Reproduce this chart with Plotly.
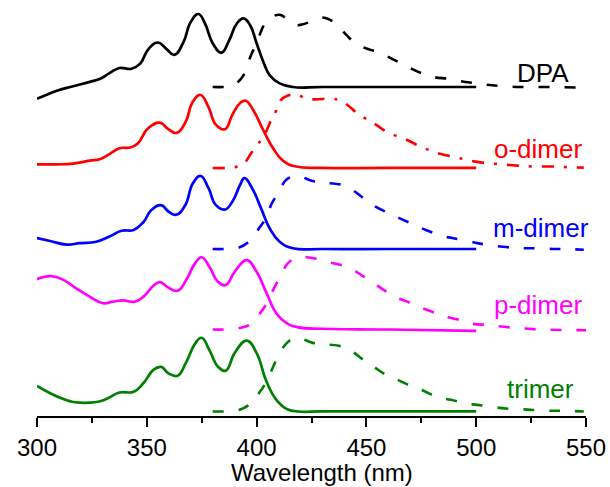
import plotly.graph_objects as go

# ---------------- data (normalised spectra) ----------------
names = ["DPA", "o-dimer", "m-dimer", "p-dimer", "trimer"]
colors = ["#000000", "#FF0000", "#0000FF", "#FF00FF", "#008000"]
offsets = [4.445, 3.336, 2.226, 1.123, 0.0]   # vertical stacking offsets

dpa_abs_x = [300, 305, 309, 316.5, 324, 328.5, 333, 337.5, 343, 347, 350.5, 355, 359, 362.5,
             366.5, 370, 373.5, 376.5, 380, 384, 387.5, 391, 394, 397, 400, 403, 406, 410.5,
             416.5, 430, 460, 500]
dpa_abs_y = [-0.16, -0.10, -0.05, 0.01, 0.07, 0.11, 0.19, 0.26, 0.25, 0.32, 0.51, 0.61, 0.52, 0.44,
             0.60, 0.89, 1.00, 0.87, 0.60, 0.47, 0.64, 0.87, 0.94, 0.85, 0.60, 0.35, 0.16, 0.05,
             0.0, 0.0, 0.0, 0.0]
dpa_em_x = [380, 385, 388, 391.5, 394, 397.5, 400, 402, 404, 407, 410.5, 414, 418, 421, 425, 429,
            432, 435.5, 441, 444.5, 449, 453, 457.5, 464, 468, 475, 480, 488, 493, 500, 505, 513,
            520, 535, 550]
dpa_em_y = [0.0, 0.0, 0.01, 0.07, 0.16, 0.44, 0.60, 0.76, 0.88, 0.96, 0.99, 0.93, 0.85, 0.86, 0.90,
            0.95, 0.94, 0.88, 0.71, 0.61, 0.54, 0.50, 0.45, 0.35, 0.29, 0.19, 0.14, 0.11, 0.08,
            0.05, 0.03, 0.01, 0.0, 0.0, -0.01]

o_abs_x = [300, 309, 316.5, 324, 328.5, 333, 337.5, 342.5, 346, 350.5, 356, 359.5, 363.5, 367.5,
           371, 374.5, 378, 381.5, 385.5, 389, 392.5, 395, 398.5, 403, 407.5, 412, 418, 430, 460, 500]
o_abs_y = [0.05, 0.05, 0.06, 0.10, 0.12, 0.19, 0.27, 0.28, 0.34, 0.54, 0.62, 0.54, 0.48, 0.62,
           0.91, 1.00, 0.84, 0.59, 0.53, 0.73, 0.89, 0.92, 0.79, 0.52, 0.27, 0.10, 0.02, 0.0, 0.0, 0.0]
o_em_x = [380, 386, 391.5, 394.5, 397.5, 400.5, 403.5, 407, 409, 411, 414, 418, 422.5, 427, 434,
          437.5, 441.5, 445, 450, 454.5, 459.5, 464.5, 469.5, 474, 479, 484, 490, 494.5, 499, 505,
          510, 515, 520, 526, 535, 542, 549]
o_em_y = [0.0, 0.0, 0.02, 0.07, 0.20, 0.32, 0.45, 0.68, 0.79, 0.93, 0.99, 1.01, 0.95, 0.94, 0.95,
          0.93, 0.86, 0.77, 0.67, 0.59, 0.49, 0.43, 0.37, 0.30, 0.24, 0.19, 0.15, 0.12, 0.09, 0.065,
          0.055, 0.04, 0.03, 0.02, 0.02, 0.01, 0.005]

m_abs_x = [300, 306, 313.5, 319.5, 327, 333, 338.5, 344, 348.5, 352, 356.5, 360, 363.5, 367.5, 371,
           374.5, 378, 381.5, 385.5, 389, 392.5, 394.5, 398, 402, 406, 410.5, 416.5, 430, 460, 500]
m_abs_y = [0.15, 0.11, 0.06, 0.08, 0.10, 0.17, 0.25, 0.26, 0.37, 0.53, 0.60, 0.51, 0.47, 0.60, 0.90,
           1.00, 0.84, 0.60, 0.54, 0.65, 0.88, 0.97, 0.83, 0.56, 0.28, 0.10, 0.01, 0.0, 0.0, 0.0]
m_em_x = [380, 385, 392, 396, 401.5, 404.5, 407, 410, 413.5, 418.5, 425.5, 430, 438.5, 443, 449,
          453.5, 461, 466, 472.5, 477, 484.5, 489, 497.5, 500.5, 512, 522, 527, 535, 540, 549]
m_em_y = [0.0, 0.0, 0.02, 0.09, 0.30, 0.44, 0.63, 0.77, 0.95, 1.00, 0.93, 0.91, 0.88, 0.82, 0.69,
          0.59, 0.48, 0.41, 0.32, 0.26, 0.18, 0.15, 0.10, 0.08, 0.03, 0.01, 0.01, 0.0, 0.0, -0.01]

p_abs_x = [300, 306.5, 312, 318, 324, 330, 334.5, 339, 344.5, 348.5, 353, 356, 359.5, 364, 368,
           372, 375, 378.5, 382.5, 386, 390, 395.5, 400, 404.5, 409, 414, 419, 430, 460, 500]
p_abs_y = [0.69, 0.73, 0.68, 0.56, 0.45, 0.36, 0.38, 0.40, 0.38, 0.45, 0.60, 0.65, 0.58, 0.53, 0.68,
           0.91, 0.99, 0.86, 0.65, 0.61, 0.79, 0.95, 0.79, 0.50, 0.22, 0.08, 0.03, 0.01, 0.0, -0.02]
p_em_x = [380, 385, 392, 397, 402, 405, 408, 411, 414, 419, 427, 431.5, 437.5, 442.5, 449, 453,
          458, 462, 469.5, 474, 482, 485.5, 494, 498, 506, 511.5, 518, 524, 530, 550]
p_em_y = [0.0, 0.0, 0.02, 0.07, 0.24, 0.38, 0.57, 0.73, 0.90, 0.99, 0.97, 0.93, 0.89, 0.84, 0.72,
          0.64, 0.54, 0.46, 0.37, 0.31, 0.22, 0.18, 0.12, 0.08, 0.06, 0.04, 0.02, 0.01, 0.0, -0.01]

t_abs_x = [300, 306, 312, 316.5, 327, 331.5, 337.5, 344, 348.5, 353, 356.5, 360, 364, 368, 372, 375,
           378.5, 382.5, 386, 390, 395.5, 400, 404.5, 409, 414, 419, 430, 460, 500]
t_abs_y = [0.35, 0.25, 0.17, 0.13, 0.13, 0.17, 0.26, 0.27, 0.39, 0.57, 0.61, 0.52, 0.49, 0.68, 0.93,
           1.01, 0.84, 0.61, 0.56, 0.80, 0.97, 0.80, 0.41, 0.16, 0.03, 0.0, 0.0, 0.0, 0.0]
t_em_x = [380, 385, 392, 396, 401.5, 404.5, 407.5, 409.7, 413.5, 418, 425.5, 430, 437.5, 442.5, 449,
          453, 459, 463, 471, 475.5, 483, 488.5, 495, 500.5, 508, 513.5, 521, 526, 534.5, 540, 549]
t_em_y = [0.0, 0.0, 0.02, 0.08, 0.27, 0.41, 0.61, 0.75, 0.93, 1.01, 0.94, 0.92, 0.90, 0.84, 0.70,
          0.62, 0.50, 0.45, 0.34, 0.29, 0.19, 0.16, 0.11, 0.09, 0.06, 0.04, 0.03, 0.02, 0.01, 0.01, 0.0]

abs_x = [dpa_abs_x, o_abs_x, m_abs_x, p_abs_x, t_abs_x]
abs_y = [dpa_abs_y, o_abs_y, m_abs_y, p_abs_y, t_abs_y]
em_x = [dpa_em_x, o_em_x, m_em_x, p_em_x, t_em_x]
em_y = [dpa_em_y, o_em_y, m_em_y, p_em_y, t_em_y]

# label positions (wavelength, height above own baseline)
label_x = [530.4, 528.1, 529.7, 528.1, 529.3]
label_dy = [0.19, 0.26, 0.29, 0.34, 0.31]

x_ticks = [300, 350, 400, 450, 500, 550]

# ---------------- figure ----------------
FONT = "Arial, 'Liberation Sans', sans-serif"
fig = go.Figure()
em_dash = ["11px,15px", "12px,10px,3px,10px", "11px,15px", "11px,15px", "11px,15px"]

for i in range(len(names)):
    off = offsets[i]
    fig.add_trace(go.Scatter(
        x=abs_x[i], y=[v + off for v in abs_y[i]], mode="lines",
        line=dict(color=colors[i], width=2.7, shape="spline", smoothing=1.3),
        showlegend=False, hoverinfo="skip"))
    fig.add_trace(go.Scatter(
        x=em_x[i], y=[v + off for v in em_y[i]], mode="lines",
        line=dict(color=colors[i], width=2.6, shape="spline", smoothing=1.1, dash=em_dash[i]),
        showlegend=False, hoverinfo="skip"))
    fig.add_annotation(x=label_x[i], y=off + label_dy[i], xref="x", yref="y",
                       text=names[i], showarrow=False, xanchor="center", yanchor="middle",
                       font=dict(family=FONT, size=26, color=colors[i]))

fig.add_annotation(x=0.52, y=-0.1707, xref="paper", yref="paper", text="Wavelength (nm)",
                   showarrow=False, xanchor="center", yanchor="bottom", borderpad=0,
                   font=dict(family=FONT, size=24, color="#000000"))

fig.update_layout(
    width=610, height=487,
    margin=dict(l=37, r=24, t=0, b=71),
    paper_bgcolor="white", plot_bgcolor="white",
    font=dict(family=FONT, size=26, color="black"),
    xaxis=dict(range=[300, 550], tickvals=x_ticks, ticktext=[str(v) for v in x_ticks],
               showgrid=False, zeroline=False, showline=True, linecolor="black", linewidth=1.5,
               ticks="outside", ticklen=9, tickwidth=1.5, tickcolor="black",
               tickfont=dict(family=FONT, size=24, color="black"),
               minor=dict(dtick=25, tick0=300, ticks="outside", ticklen=5, tickwidth=1.5,
                          tickcolor="black", showgrid=False)),
    yaxis=dict(range=[-0.062, 5.637], visible=False, showgrid=False, zeroline=False),
)

fig.write_html("out.html")
